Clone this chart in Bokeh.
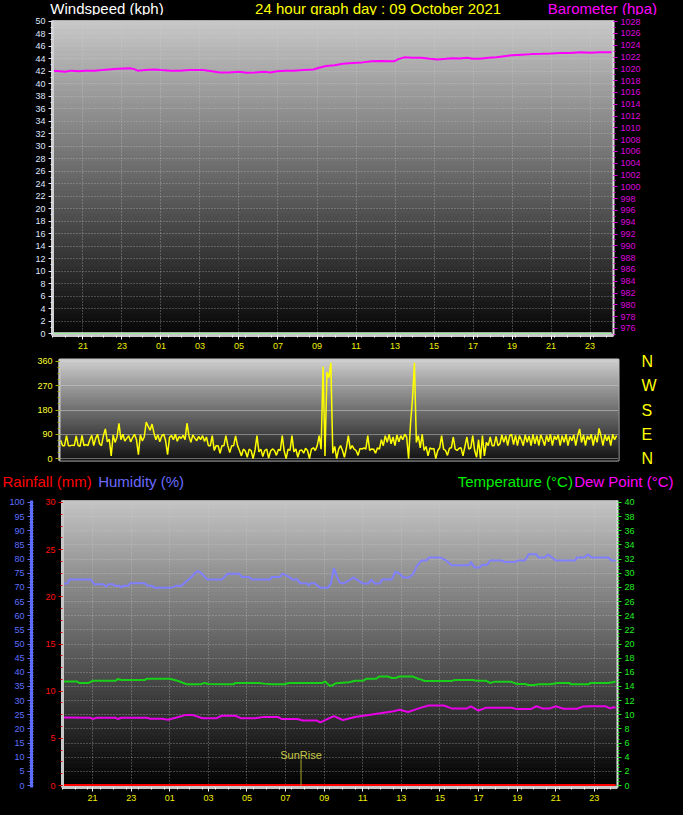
from bokeh.plotting import figure
from bokeh.models import Range1d, LinearAxis, FixedTicker, Label
from bokeh.layouts import column
from bokeh.embed import file_html
from bokeh.resources import INLINE
from bokeh.core.properties import value

FONT = "Liberation Sans"

# ---- data (hours relative to midnight of 09 Oct 2021) ----
hour_ticks = [-3, -1, 1, 3, 5, 7, 9, 11, 13, 15, 17, 19, 21, 23]
hour_labels = ["21", "23", "01", "03", "05", "07", "09", "11", "13", "15", "17", "19", "21", "23"]

wind_hours = [-4.5, 24.1]
wind_kph = [0, 0]
gust_kph = [0, 0]

baro_hours = [-4.5, -4.2, -3.9, -3.6, -3.2, -2.9, -2.4, -2.0, -1.7, -1.2, -0.6, -0.4, -0.2, 0.2,
              0.65, 1.0, 1.5, 1.95, 2.5, 3.16, 3.6, 4.0, 4.46, 5.0, 5.4, 5.81, 6.3, 6.6, 6.96,
              7.4, 7.81, 8.3, 8.82, 9.1, 9.47, 9.9, 10.32, 10.8, 11.32, 11.8, 12.32, 12.7,
              12.97, 13.2, 13.48, 13.9, 14.33, 14.8, 15.18, 15.6, 15.98, 16.3, 16.68, 17.0,
              17.33, 17.8, 18.19, 18.6, 18.99, 19.5, 19.99, 20.5, 20.99, 21.5, 21.99, 22.5,
              22.99, 23.5, 24.1]
baro_hpa = [1019.7, 1019.6, 1019.5, 1019.7, 1019.6, 1019.7, 1019.7, 1019.8, 1019.9, 1020.0,
            1020.1, 1020.0, 1019.7, 1019.8, 1019.9, 1019.8, 1019.7, 1019.7, 1019.8, 1019.8,
            1019.6, 1019.4, 1019.4, 1019.5, 1019.35, 1019.4, 1019.5, 1019.4, 1019.6, 1019.7,
            1019.7, 1019.8, 1019.9, 1020.2, 1020.5, 1020.6, 1020.85, 1021.0, 1021.1, 1021.3,
            1021.35, 1021.3, 1021.3, 1021.7, 1021.95, 1021.9, 1021.9, 1021.7, 1021.6, 1021.7,
            1021.8, 1021.75, 1021.9, 1021.7, 1021.7, 1021.9, 1021.96, 1022.15, 1022.3,
            1022.4, 1022.5, 1022.55, 1022.6, 1022.7, 1022.7, 1022.8, 1022.75, 1022.8, 1022.8]

# wind direction, one reading every 6 minutes from 19:30 on the previous day
dir_start = -4.5
dir_step = 0.1
wind_dir = [68, 48, 48, 85, 48,
            48, 50, 48, 84, 48, 46, 86, 48, 52, 48,
            70, 86, 48, 75, 90, 55, 48, 85, 110, 62,
            72, 10, 88, 60, 80, 131, 70, 90, 65, 75,
            85, 62, 78, 90, 70, 15, 88, 66, 80, 135,
            120, 105, 128, 95, 70, 88, 62, 84, 90, 66,
            15, 78, 86, 70, 90, 64, 82, 75, 86, 70,
            131, 84, 60, 88, 76, 66, 82, 70, 85, 64,
            80, 48, 48, 85, 30, 48, 48, 20, 48, 48,
            85, 48, 22, 48, 48, 84, 48, 30, 10, 35,
            28, 5, 35, 30, 0, 32, 85, 25, 35, 8,
            30, 35, 2, 28, 36, 30, 12, 34, 30, 85,
            28, 0, 35, 30, 85, 25, 36, 5, 30, 32,
            20, 38, 30, 0, 35, 40, 30, 48, 85, 35,
            340, 10, 320, 300, 355, 20, 45, 0, 35, 48,
            30, 5, 40, 85, 35, 48, 35, 30, 12, 38,
            35, 40, 35, 85, 30, 36, 35, 20, 40, 35,
            70, 48, 85, 60, 90, 55, 80, 48, 88, 62,
            85, 70, 90, 80, 0, 130, 220, 355, 60, 85,
            40, 90, 30, 45, 10, 40, 35, 38, 0, 30,
            40, 85, 35, 30, 12, 38, 40, 80, 35, 30,
            38, 40, 10, 45, 80, 35, 40, 85, 30, 5,
            70, 0, 85, 10, 60, 48, 80, 48, 48, 82,
            48, 55, 88, 60, 85, 48, 84, 90, 52, 86,
            48, 85, 70, 48, 88, 60, 84, 48, 90, 55,
            85, 48, 88, 70, 48, 86, 62, 90, 48, 84,
            70, 88, 48, 85, 60, 90, 48, 82, 66, 88,
            48, 86, 110, 60, 88, 48, 84, 70, 90, 48,
            86, 60, 112, 84, 48, 88, 66, 85, 48, 90,
            70, 85]
dir_hours = [round(dir_start + dir_step * i, 2) for i in range(len(wind_dir))]

rain_hours = [-4.5, 24.1]
rain_mm = [0, 0]

hum_hours = [-4.5, -4.3, -4.2, -3.1, -2.9, -2.45, -2.3, -2.15, -1.95, -1.85, -1.6, -1.5, -1.4,
             -1.15, -1.05, -0.3, -0.15, 0.05, 0.2, 1.1, 1.35, 1.6, 1.75, 1.9, 2.1, 2.25, 2.45,
             2.6, 2.75, 2.95, 3.7, 3.85, 4.0, 4.6, 4.75, 5.1, 5.25, 6.2, 6.3, 6.7, 6.85, 7.0,
             7.2, 7.35, 7.6, 7.75, 8.1, 8.2, 8.3, 8.5, 8.65, 8.8, 9.2, 9.35, 9.5, 9.65, 9.8,
             10.0, 10.3, 10.5, 10.75, 11.0, 11.3, 11.45, 11.6, 11.9, 12.0, 12.5, 12.7, 12.9,
             13.1, 13.4, 13.6, 13.8, 14.05, 14.3, 14.45, 15.0, 15.3, 15.6, 16.5, 16.6, 16.8,
             17.05, 17.2, 17.45, 17.6, 18.2, 18.35, 18.9, 19.05, 19.4, 19.6, 20.0, 20.1,
             20.45, 20.6, 20.8, 21.0, 22.0, 22.1, 22.5, 22.65, 22.85, 23.7, 23.9, 24.1]
hum_pct = [71.4, 71.4, 72.8, 72.8, 71.1, 71.1, 70.3, 71.1, 71.1, 70.6, 70.6, 69.9, 70.6,
           70.6, 71.5, 71.5, 70.6, 70.6, 69.9, 69.9, 70.6, 70.6, 71.5, 72.4, 73.5, 74.7, 75.8,
           75.2, 74.2, 72.8, 72.8, 73.8, 74.8, 74.8, 73.7, 73.7, 72.8, 72.8, 73.7, 73.7, 74.9,
           74.3, 73.7, 72.8, 72.8, 71.5, 71.5, 70.6, 71.5, 71.5, 70.6, 69.9, 69.9, 71.4, 76.8,
           73.9, 71.7, 71.4, 72.5, 73.5, 72.5, 71.4, 71.4, 72.8, 71.4, 71.4, 72.8, 72.8, 75.6,
           74.9, 73.5, 73.5, 74.7, 77.5, 79.5, 79.5, 80.6, 80.6, 79.6, 77.8, 77.8, 79.0, 77.0,
           77.0, 78.0, 78.0, 79.5, 79.5, 79.0, 79.0, 79.5, 79.5, 81.7, 81.7, 80.6, 80.6, 81.6,
           80.6, 79.5, 79.5, 80.6, 80.6, 81.6, 80.6, 80.6, 79.5, 79.5]

temp_hours = [-4.5, -3.8, -3.7, -3.2, -3.0, -1.8, -1.7, -1.5, -0.3, -0.2, 1.0, 1.4, 1.6, 1.9,
              2.6, 2.8, 3.0, 4.3, 4.4, 5.6, 5.9, 6.3, 6.9, 7.2, 8.9, 9.05, 9.2, 9.3, 9.45, 9.6,
              10.3, 10.6, 11.0, 11.2, 11.7, 11.85, 12.3, 12.5, 12.7, 12.9, 13.6, 13.9, 14.0,
              14.2, 15.6, 15.75, 16.7, 16.9, 17.4, 17.6, 17.8, 18.7, 19.0, 19.4, 19.6, 19.9,
              20.1, 20.7, 21.1, 21.7, 21.8, 22.7, 22.8, 23.7, 23.95, 24.1]
temp_c = [14.7, 14.7, 14.5, 14.5, 14.8, 14.8, 15.05, 14.9, 14.9, 15.1, 15.1, 14.8, 14.6, 14.3,
          14.3, 14.5, 14.35, 14.3, 14.5, 14.5, 14.4, 14.3, 14.3, 14.5, 14.5, 14.7, 14.3, 14.05,
          14.2, 14.45, 14.6, 14.8, 14.8, 15.1, 15.1, 15.4, 15.4, 15.2, 15.2, 15.4, 15.4, 15.05,
          15.0, 14.77, 14.77, 14.9, 14.9, 14.8, 14.8, 14.5, 14.65, 14.65, 14.35, 14.35, 14.2,
          14.2, 14.3, 14.3, 14.5, 14.5, 14.3, 14.3, 14.5, 14.5, 14.6, 14.7]

dew_hours = [-4.5, -3.1, -3.0, -2.8, -1.8, -1.7, -1.5, -0.2, 0.0, 0.6, 0.9, 1.3, 1.8, 2.2, 2.7,
             3.4, 3.7, 4.4, 4.7, 5.4, 5.9, 6.6, 6.8, 7.6, 7.9, 8.6, 8.8, 9.1, 9.5, 9.97, 10.6,
             11.3, 11.9, 12.6, 12.9, 13.35, 13.9, 14.4, 15.2, 15.6, 16.4, 16.6, 17.0, 17.4,
             18.7, 19.0, 19.7, 20.0, 20.3, 20.7, 21.0, 21.4, 22.1, 22.4, 22.8, 23.6, 23.8,
             24.0, 24.1]
dew_c = [9.6, 9.58, 9.4, 9.56, 9.56, 9.4, 9.58, 9.58, 9.44, 9.44, 9.3, 9.58, 9.95, 9.95, 9.5,
         9.5, 9.86, 9.86, 9.5, 9.5, 9.7, 9.7, 9.4, 9.4, 9.2, 9.2, 8.93, 9.3, 9.8, 9.26, 9.68,
         9.95, 10.2, 10.5, 10.7, 10.4, 10.9, 11.3, 11.3, 10.9, 10.9, 11.2, 10.6, 11.0, 11.0,
         10.8, 10.8, 11.2, 10.9, 10.9, 11.2, 10.85, 10.85, 11.15, 11.2, 11.2, 10.9, 11.05,
         11.0]

sunrise_hour = 7.8

# ---- helpers ----
X_START, X_END = -4.56, 24.2
W = 683
hour_overrides = {t: lab for t, lab in zip(hour_ticks, hour_labels)}


def gray_bands(p, y0, y1, g_top, g_bottom, n=72):
    step = (y1 - y0) / n
    bottoms = [y0 + i * step for i in range(n)]
    tops = [b + step for b in bottoms]
    cols = []
    for i in range(n):
        g = int(round(g_bottom + (g_top - g_bottom) * (i + 0.5) / n))
        cols.append("#%02x%02x%02x" % (g, g, g))
    p.quad(left=X_START, right=X_END, bottom=bottoms, top=tops, fill_color=cols,
           line_color=cols, line_width=1, level="image")


def style_axis(ax, label_color, tick_color, line_color, line_width=2):
    ax.major_label_text_color = label_color
    ax.major_label_text_font = FONT
    ax.major_label_text_font_size = "9px"
    ax.axis_line_color = line_color
    ax.axis_line_width = line_width
    ax.major_tick_line_color = tick_color
    ax.minor_tick_line_color = tick_color
    ax.major_tick_in = 0
    ax.major_tick_out = 4
    ax.minor_tick_in = 0
    ax.minor_tick_out = 2
    ax.major_label_standoff = 3


def style_grid(p):
    p.grid.grid_line_color = "#cfcfcf"
    p.grid.grid_line_alpha = 0.55
    p.grid.grid_line_dash = "1 2"


def style_xaxis(ax):
    ax.ticker = FixedTicker(ticks=hour_ticks, minor_ticks=[X_START + 0.66 * i for i in range(44)])
    ax.major_label_overrides = hour_overrides
    style_axis(ax, "#f0f000", "#ffffff", "#c8c8c8", 3)


def title_strip(height, texts):
    # a thin black figure holding a row of headings; x and y are pixels in the strip
    s = figure(width=W, height=height, x_range=Range1d(0, W), y_range=Range1d(0, height),
               output_backend="svg", toolbar_location=None, frame_align=False,
               x_axis_location=None, y_axis_location=None, min_border=0,
               background_fill_color="black", border_fill_color="black",
               outline_line_color=None)
    s.grid.visible = False
    for x, y, text, color, align in texts:
        s.text(x=[x], y=[y], text=[text], text_color=color, text_font=value(FONT),
               text_font_size="15px", text_align=align, text_baseline="middle")
    return s


# ---- headings above the top panel ----
head_top = title_strip(15, [
    (49.8, 7.5, "Windspeed (kph)", "#ffffff", "left"),
    (377.6, 7.5, "24 hour graph day : 09 October 2021", "#ffff00", "center"),
    (656.5, 7.5, "Barometer (hpa)", "#ff00ff", "right"),
])

# ---- top panel: wind speed & barometer ----
top = figure(width=W, height=337, x_range=Range1d(X_START, X_END), y_range=Range1d(-0.3, 50.1),
             output_backend="svg", toolbar_location=None, frame_align=False,
             min_border_left=52, min_border_right=70, min_border_top=5, min_border_bottom=17,
             background_fill_color="black", border_fill_color="black",
             outline_line_color="#c8c8c8", outline_line_alpha=0.6)
top.extra_y_ranges = {"baro": Range1d(974.8, 1028.2)}
gray_bands(top, -0.3, 50.1, 200, 5)
style_grid(top)

top.yaxis[0].ticker = FixedTicker(ticks=list(range(0, 51, 2)), minor_ticks=list(range(0, 51)))
style_axis(top.yaxis[0], "#dfe6ff", "#dfe6ff", "#d0d0d0", 3)
style_xaxis(top.xaxis[0])

baro_axis = LinearAxis(y_range_name="baro",
                       ticker=FixedTicker(ticks=list(range(976, 1029, 2)),
                                          minor_ticks=list(range(975, 1029))))
style_axis(baro_axis, "#dd00dd", "#dd00dd", "#e0e0e0", 2)
top.add_layout(baro_axis, "right")

top.line(wind_hours, gust_kph, line_color="#dcdcdc", line_width=3)
top.line(wind_hours, wind_kph, line_color="#98f098", line_width=1.5)
top.line(baro_hours, baro_hpa, y_range_name="baro", line_color="#ff00ff", line_width=2)

# ---- middle panel: wind direction ----
mid = figure(width=W, height=118, x_range=top.x_range, y_range=Range1d(-7, 367),
             output_backend="svg", toolbar_location=None, frame_align=False,
             min_border_left=59, min_border_right=65, min_border_top=7, min_border_bottom=10,
             background_fill_color="black", border_fill_color="black",
             outline_line_color="#c0c0c0", outline_line_width=2)
gray_bands(mid, -7, 367, 205, 18)
mid.xaxis.visible = False
mid.xgrid.visible = False
mid.yaxis[0].ticker = FixedTicker(ticks=[0, 90, 180, 270, 360],
                                  minor_ticks=[22.5 * i for i in range(17)])
style_axis(mid.yaxis[0], "#ffff33", "#a8a800", "#c8c8c8", 2)
mid.ygrid.grid_line_color = "#d8d8d8"
mid.ygrid.grid_line_alpha = 0.45

compass = LinearAxis(ticker=FixedTicker(ticks=[0, 90, 180, 270, 360]),
                     major_label_overrides={0: "N", 90: "E", 180: "S", 270: "W", 360: "N"})
compass.axis_line_color = None
compass.major_tick_line_color = None
compass.minor_tick_line_color = None
compass.major_label_standoff = 17
compass.major_label_text_color = "#ffff00"
compass.major_label_text_font = FONT
compass.major_label_text_font_size = "16px"
mid.add_layout(compass, "right")

mid.line(dir_hours, wind_dir, line_color="#ffff00", line_width=1.5)

# ---- headings above the bottom panel ----
head_bot = title_strip(24, [
    (2.0, 13.0, "Rainfall (mm)", "#ff0000", "left"),
    (97.7, 13.0, "Humidity (%)", "#6a6aff", "left"),
    (457.2, 13.0, "Temperature (\u00b0C)", "#00ee00", "left"),
    (673.0, 13.0, "Dew Point (\u00b0C)", "#ff00ff", "right"),
])

# ---- bottom panel: rain, humidity, temperature, dew point ----
bot = figure(width=W, height=321, x_range=top.x_range, y_range=Range1d(-0.28, 40.28),
             y_axis_location="right", output_backend="svg", toolbar_location=None,
             frame_align=False,
             min_border_left=62, min_border_right=66, min_border_top=6, min_border_bottom=28,
             background_fill_color="black", border_fill_color="black",
             outline_line_color="#c8c8c8", outline_line_alpha=0.6)
bot.extra_y_ranges = {"rain": Range1d(-0.21, 30.21), "hum": Range1d(-0.7, 100.7)}
gray_bands(bot, -0.28, 40.28, 196, 0)
style_grid(bot)
style_xaxis(bot.xaxis[0])

bot.yaxis[0].ticker = FixedTicker(ticks=list(range(0, 41, 2)),
                                  minor_ticks=[0.5 * i for i in range(81)])
style_axis(bot.yaxis[0], "#22ee22", "#22ee22", "#e0e0e0", 2)

rain_axis = LinearAxis(y_range_name="rain",
                       ticker=FixedTicker(ticks=list(range(0, 31, 5)),
                                          minor_ticks=[1.25 * i for i in range(25)]))
style_axis(rain_axis, "#ff1010", "#e00000", "#c8c8c8", 3)
rain_axis.axis_label = " "
rain_axis.axis_label_text_font_size = "7px"
rain_axis.axis_label_standoff = 1
bot.add_layout(rain_axis, "left")

hum_axis = LinearAxis(y_range_name="hum",
                      ticker=FixedTicker(ticks=list(range(0, 101, 5)),
                                         minor_ticks=list(range(0, 101))))
style_axis(hum_axis, "#5f6fff", "#5f6fff", "#5a6cff", 3)
hum_axis.minor_tick_in = 2
bot.add_layout(hum_axis, "left")

bot.line(hum_hours, hum_pct, y_range_name="hum", line_color="#8080ff", line_width=2)
bot.line(temp_hours, temp_c, line_color="#18d018", line_width=2)
bot.line(dew_hours, dew_c, line_color="#e800e8", line_width=2)
bot.line(rain_hours, rain_mm, y_range_name="rain", line_color="#ff0000", line_width=3)

bot.segment(x0=[sunrise_hour], y0=[0], x1=[sunrise_hour], y1=[3.7],
            line_color="#a8a830", line_width=1)
bot.add_layout(Label(x=sunrise_hour, y=4.3, text="SunRise", text_color="#c8c846",
                     text_font=FONT, text_font_size="11px", text_align="center",
                     text_baseline="middle"))

p = column(head_top, top, mid, head_bot, bot, spacing=0,
           styles={"background-color": "black"})
open("out.html", "w").write(file_html(p, INLINE))
